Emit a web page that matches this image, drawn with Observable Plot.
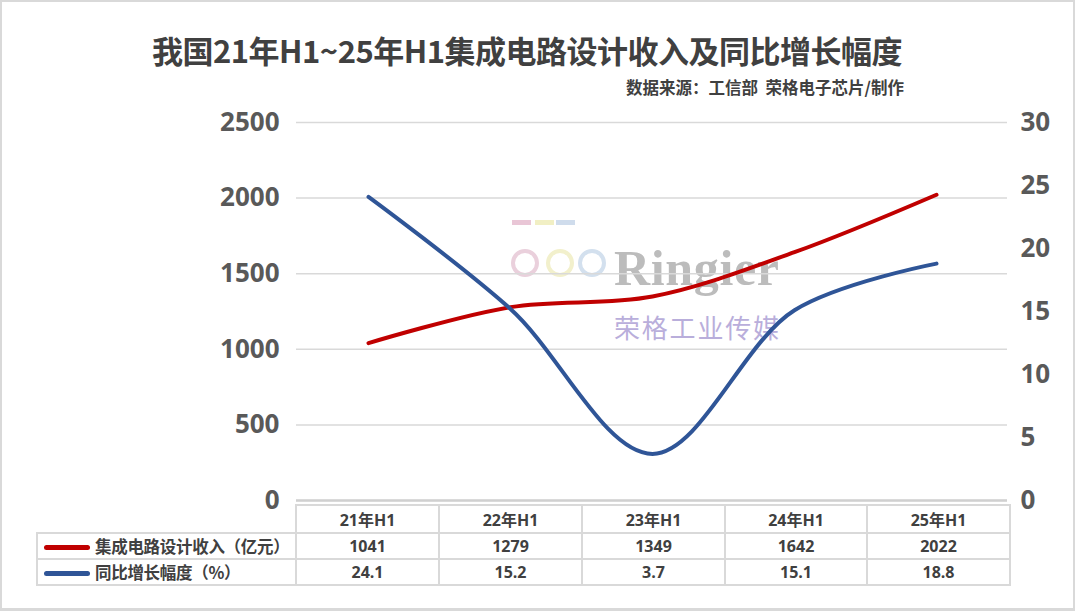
<!DOCTYPE html>
<html><head><meta charset="utf-8">
<script src="https://cdn.jsdelivr.net/npm/d3@7"></script>
<script src="https://cdn.jsdelivr.net/npm/@observablehq/plot@0.6"></script>
<style>
body{margin:0;background:#fff;}
#page{position:relative;width:1075px;height:611px;overflow:hidden;background:#fff;font-family:"Open Sans","Noto Sans CJK SC",sans-serif;}
#border{position:absolute;left:0;top:0;width:1075px;height:611px;box-sizing:border-box;border:2px solid #d9d9d9;border-bottom-width:3px;pointer-events:none;z-index:10;}
#title{position:absolute;left:0;width:1054px;top:32px;line-height:36px;text-align:center;font-family:"Noto Sans CJK SC",sans-serif;font-weight:bold;font-size:31px;color:#404040;letter-spacing:-0.5px;}
#sub{position:absolute;right:171px;top:76px;line-height:22px;font-family:"Noto Sans CJK SC",sans-serif;font-weight:bold;font-size:16.5px;color:#404040;white-space:pre;}
#chart{position:absolute;left:0;top:100px;z-index:2;}
#wm{position:absolute;left:0;top:0;z-index:1;}
#tbl{position:absolute;left:36px;top:504px;width:973px;border-collapse:collapse;z-index:3;table-layout:fixed;}
#tbl td{border:2px solid #d9d9d9;text-align:center;font-weight:bold;font-size:16px;color:#404040;padding:0;background:#fff;overflow:hidden;}
#tbl td.lab{text-align:left;white-space:nowrap;font-family:"Noto Sans CJK SC",sans-serif;font-size:16.5px;letter-spacing:-0.3px;}
#tbl td.blank{border:none;border-bottom:2px solid #d9d9d9;background:transparent;}
.sw{display:inline-block;width:46px;height:5px;border-radius:3px;vertical-align:middle;margin:0 5px 0 6px;position:relative;top:-1px;}
</style>
</head><body>
<div id="page">
  <div id="title"></div>
  <div id="sub"></div>
  <div id="wm"></div>
  <div id="chart"></div>
  <table id="tbl"></table>
  <div id="border"></div>
</div>
<script>
const titleText = "我国21年H1~25年H1集成电路设计收入及同比增长幅度";
const subText = "数据来源：工信部  荣格电子芯片/制作";
const categories = ["21年H1", "22年H1", "23年H1", "24年H1", "25年H1"];
const revenue = [1041, 1279, 1349, 1642, 2022];      // 集成电路设计收入（亿元）
const growth = [24.1, 15.2, 3.7, 15.1, 18.8];        // 同比增长幅度（%）
const seriesNames = ["集成电路设计收入（亿元）", "同比增长幅度（%）"];
const seriesColors = ["#C00000", "#2F5597"];
const leftTicks = [0, 500, 1000, 1500, 2000, 2500];
const rightTicks = [0, 5, 10, 15, 20, 25, 30];
const leftMax = 2500, rightMax = 30;

document.getElementById("title").textContent = titleText;
document.getElementById("sub").textContent = subText;

const toLeft = v => v * leftMax / rightMax;
const rows = categories.map((c, i) => ({cat: c, rev: revenue[i], pct: growth[i]}));

const plot = Plot.plot({
  width: 1075, height: 430,
  marginTop: 22, marginBottom: 30, marginLeft: 296, marginRight: 68,
  style: {background: "transparent", color: "#595959", fontFamily: "'Open Sans', sans-serif"},
  x: {type: "point", domain: categories, padding: 0.5, axis: null},
  y: {domain: [0, leftMax], axis: null},
  marks: [
    Plot.gridY(leftTicks, {stroke: "#d9d9d9", strokeOpacity: 1, strokeWidth: 1.5}),
    Plot.ruleY([0], {stroke: "#d0d0d0", strokeWidth: 2.5}),
    Plot.axisY(leftTicks, {anchor: "left", tickSize: 0, tickPadding: 17, fontSize: 26, fontWeight: "bold", label: null,
      tickFormat: d => String(d)}),
    Plot.axisY(rightTicks.map(toLeft), {anchor: "right", tickSize: 0, tickPadding: 13, fontSize: 26, fontWeight: "bold", label: null,
      tickFormat: d => String(Math.round(d * rightMax / leftMax))}),
    Plot.line(rows, {x: "cat", y: "rev", curve: "catmull-rom", stroke: seriesColors[0], strokeWidth: 4}),
    Plot.line(rows, {x: "cat", y: d => toLeft(d.pct), curve: "catmull-rom", stroke: seriesColors[1], strokeWidth: 4})
  ]
});
document.getElementById("chart").appendChild(plot);

// watermark logo
document.getElementById("wm").innerHTML = `
<svg width="1075" height="611" style="position:absolute;left:0;top:0">
  <rect x="512" y="220" width="19" height="5" fill="#e9c6d6"/>
  <rect x="535" y="220" width="19" height="5" fill="#f1efc4"/>
  <rect x="556" y="220" width="19" height="5" fill="#cfdcec"/>
  <circle cx="525" cy="263" r="12" fill="none" stroke="#ead0dc" stroke-width="4"/>
  <circle cx="560" cy="263" r="12" fill="none" stroke="#f2f0cc" stroke-width="4"/>
  <circle cx="592" cy="263" r="12" fill="none" stroke="#d3e0ee" stroke-width="4"/>
  <text x="614" y="285" font-family="'Liberation Serif','DejaVu Serif',serif" font-size="50" font-weight="bold" fill="#bcbcbc" textLength="165">Ringier</text>
  <text x="614" y="338" font-family="'Noto Sans CJK SC',sans-serif" font-size="26" fill="#b9aedb" textLength="165">荣格工业传媒</text>
</svg>`;

// data table
const tbl = document.getElementById("tbl");
const colW = [259, 143, 143, 143, 142, 143];
let html = "<colgroup>" + colW.map(w => `<col style="width:${w}px">`).join("") + "</colgroup>";
html += `<tr style="height:28px"><td class="blank"></td>` + categories.map(c => `<td>${c}</td>`).join("") + "</tr>";
[revenue, growth].forEach((vals, k) => {
  html += `<tr style="height:26px"><td class="lab"><span class="sw" style="background:${seriesColors[k]}"></span>${seriesNames[k]}</td>` +
    vals.map(v => `<td>${v}</td>`).join("") + "</tr>";
});
tbl.innerHTML = html;
</script>
</body></html>
